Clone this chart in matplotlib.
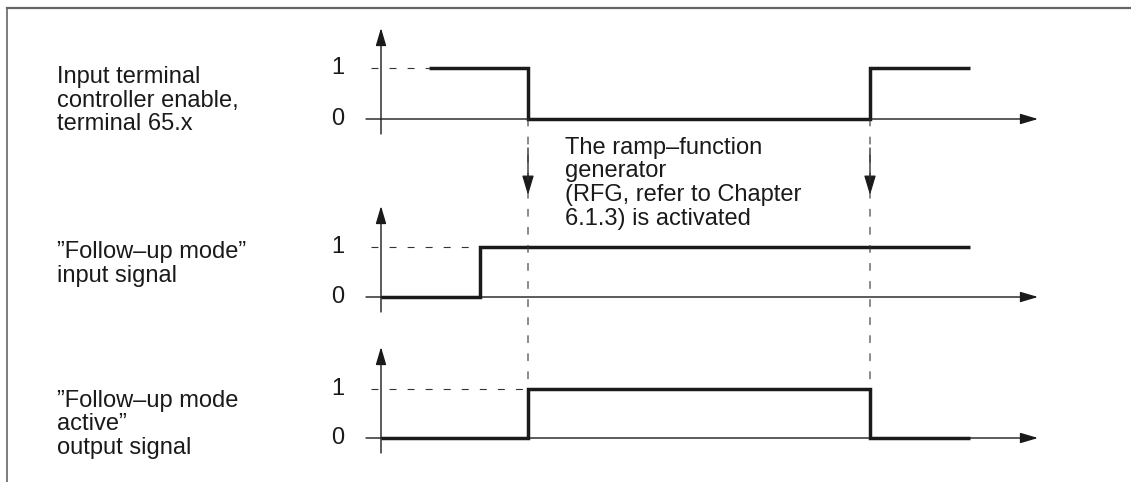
import matplotlib
matplotlib.use("Agg")
import matplotlib.pyplot as plt
from matplotlib.lines import Line2D
from matplotlib.patches import ConnectionPatch, ArrowStyle

plt.rcParams['font.family'] = ['Liberation Sans', 'DejaVu Sans']
plt.rcParams['lines.scale_dashes'] = False

# time in arbitrary units (0 = vertical axis), levels 0/1, steps-post
enable_t = [4.76, 14.7, 48.9, 58.9]
enable_v = [1, 0, 1, 1]
follow_in_t = [0, 9.9, 58.9]
follow_in_v = [0, 1, 1]
follow_act_t = [0, 14.7, 48.9, 58.9]
follow_act_v = [0, 1, 0, 0]
event_t = [14.7, 48.9]          # RFG hand-over instants
level_ticks = [0, 1]
time_end = 65.7

labels = ["Input terminal\ncontroller enable,\nterminal 65.x",
          "\u201dFollow\u2013up mode\u201d\ninput signal",
          "\u201dFollow\u2013up mode\nactive\u201d\noutput signal"]
note = "The ramp\u2013function\ngenerator\n(RFG, refer to Chapter\n6.1.3) is activated"

signals = [(enable_t, enable_v), (follow_in_t, follow_in_v), (follow_act_t, follow_act_v)]

W, H = 1131, 482
zero_px = [119, 297, 438]     # pixel row of level 0 in each panel
unit_px = [51, 50, 49]        # pixels between level 0 and 1
label_first_base_px = [83, 258, 407]
LINE_PX = 23.6
LS = 1.1
FS = 17
INK = '#1a1a1a'
DASH = (0, (5, 8))


def axis_arrow(ax, start, end, hl=1.08, hw=0.32):
    ax.annotate('', xy=end, xytext=start,
                arrowprops=dict(arrowstyle=ArrowStyle('-|>', head_length=hl, head_width=hw),
                                mutation_scale=10, lw=1.0, color=INK,
                                shrinkA=0, shrinkB=0))


def main():
    fig = plt.figure(figsize=(W / 100, H / 100), dpi=100)
    axes = []
    for i, (t, v) in enumerate(signals):
        z, u = zero_px[i], unit_px[i]
        ax = fig.add_axes([0, 0, 1, 1])
        ax.set_xlim(-38.1, 75.0)
        ax.set_ylim((z - H) / u, z / u)
        ax.axis('off')
        ax.patch.set_alpha(0)
        axes.append(ax)

        # axes with arrow heads
        axis_arrow(ax, (0, -15 / u), (0, 91 / u))
        axis_arrow(ax, (-1.5, 0), (time_end, 0))

        # dashed guide at level 1 up to the first high level
        first_high = t[v.index(1)]
        ax.plot([-1.0, first_high], [1, 1], ls=DASH, lw=0.8, color='#333333')

        ax.plot(t, v, drawstyle='steps-post', lw=2.5, color=INK,
                solid_joinstyle='miter', solid_capstyle='butt')

        for lv in level_ticks:
            ax.text(-4.3, lv, str(lv), ha='center', va='center', fontsize=FS, color=INK)

        n = labels[i].count('\n')
        last = label_first_base_px[i] + n * LINE_PX
        fig.text(57 / W, 1 - last / H, labels[i], ha='left', va='baseline',
                 fontsize=FS, color=INK, linespacing=LS)

    ax1, ax2, ax3 = axes
    for t in event_t:
        con = ConnectionPatch(xyA=(t, 0), coordsA=ax1.transData,
                              xyB=(t, 1), coordsB=ax3.transData,
                              ls=DASH, lw=0.8, color='#333333')
        fig.add_artist(con)
        ax1.annotate('', xy=(t, -76 / 51), xytext=(t, -29 / 51),
                     arrowprops=dict(arrowstyle=ArrowStyle('-|>', head_length=1.2, head_width=0.36),
                                     mutation_scale=10, lw=0.9, color=INK,
                                     shrinkA=0, shrinkB=0))

    fig.text(565 / W, 1 - (154 + 3 * LINE_PX) / H, note, ha='left', va='baseline',
             fontsize=FS, color=INK, linespacing=LS)

    # frame (top and left edges)
    fig.add_artist(Line2D([7 / W, 1], [1 - 7.5 / H, 1 - 7.5 / H], transform=fig.transFigure,
                          color='#666666', lw=1.6))
    fig.add_artist(Line2D([7 / W, 7 / W], [0, 1 - 7.5 / H], transform=fig.transFigure,
                          color='#666666', lw=1.2))

    fig.savefig('out.png', dpi=100)


if __name__ == '__main__':
    main()
